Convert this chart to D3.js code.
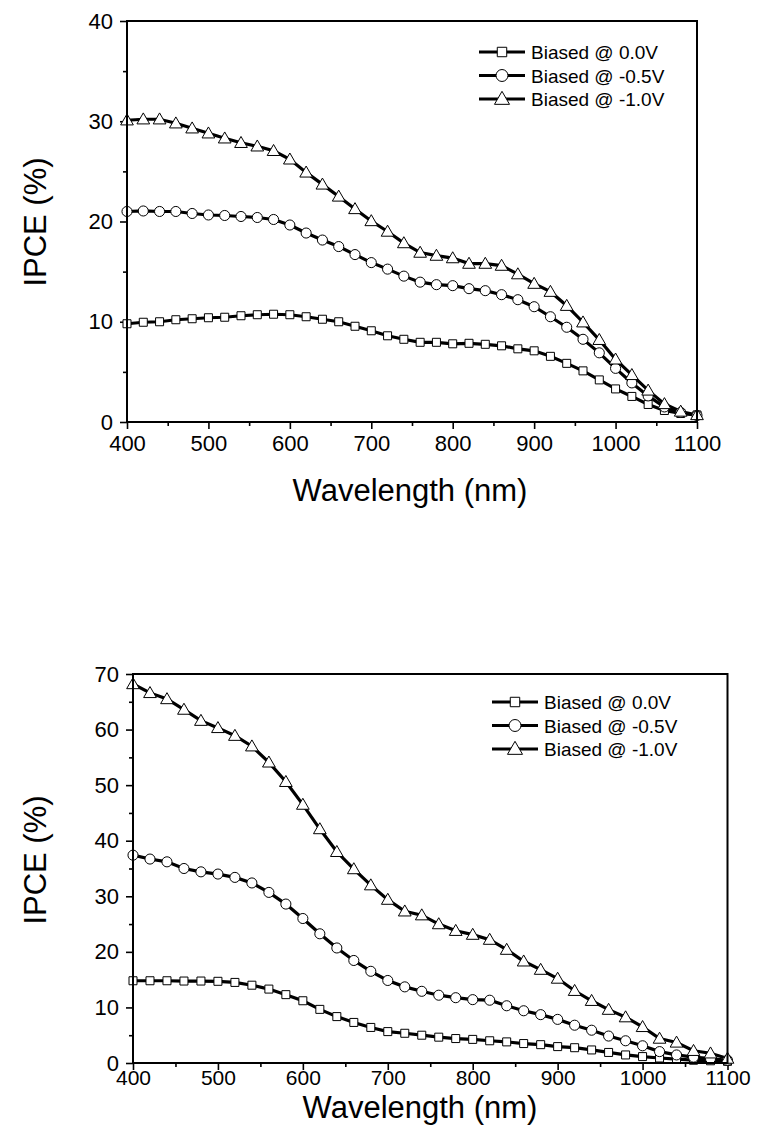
<!DOCTYPE html>
<html>
<head>
<meta charset="utf-8">
<script src="https://cdn.jsdelivr.net/npm/d3@7"></script>
<style>
  body { margin: 0; background: #fff; }
  svg { font-family: "Liberation Sans", Arial, sans-serif; }
</style>
</head>
<body>
<div id="chart"></div>
<script>
// wavelengths shared by every series (nm)
const wavelength = d3.range(400, 1101, 20);

const seriesNames = ["Biased @ 0.0V", "Biased @ -0.5V", "Biased @ -1.0V"];

// top panel IPCE (%)
const topBias00 = [9.8, 9.95, 10.0, 10.2, 10.3, 10.4, 10.45, 10.6, 10.7, 10.75, 10.7, 10.5,
  10.25, 10.0, 9.55, 9.1, 8.6, 8.25, 7.95, 7.95, 7.8, 7.85, 7.75, 7.6,
  7.3, 7.1, 6.55, 5.85, 5.1, 4.2, 3.3, 2.55, 1.75, 1.15, 0.85, 0.7];
const topBias05 = [21.0, 21.05, 21.0, 21.0, 20.8, 20.65, 20.6, 20.5, 20.4, 20.2, 19.65, 18.85,
  18.15, 17.5, 16.7, 15.9, 15.25, 14.55, 13.95, 13.7, 13.6, 13.3, 13.1, 12.7,
  12.2, 11.5, 10.5, 9.45, 8.25, 6.9, 5.35, 3.9, 2.6, 1.5, 0.95, 0.65];
const topBias10 = [30.1, 30.2, 30.2, 29.8, 29.3, 28.8, 28.3, 27.85, 27.5, 27.05, 26.2, 24.9,
  23.7, 22.5, 21.25, 20.05, 19.0, 17.85, 16.9, 16.6, 16.35, 15.8, 15.8, 15.6,
  14.75, 13.8, 13.0, 11.6, 9.95, 8.2, 6.25, 4.7, 3.15, 1.8, 1.05, 0.7];

// bottom panel IPCE (%)
const botBias00 = [14.8, 14.8, 14.8, 14.75, 14.75, 14.7, 14.5, 14.0, 13.3, 12.3, 11.2, 9.65,
  8.35, 7.3, 6.4, 5.65, 5.35, 5.0, 4.65, 4.4, 4.25, 4.0, 3.8, 3.5,
  3.3, 2.95, 2.75, 2.35, 1.9, 1.45, 1.15, 0.9, 0.7, 0.5, 0.4, 0.3];
const botBias05 = [37.4, 36.7, 36.2, 35.0, 34.4, 34.0, 33.4, 32.4, 30.7, 28.6, 26.0, 23.25,
  20.7, 18.45, 16.5, 14.85, 13.7, 12.9, 12.2, 11.75, 11.4, 11.3, 10.3, 9.4,
  8.7, 7.85, 6.8, 5.9, 4.85, 4.0, 3.1, 2.05, 1.45, 1.05, 0.8, 0.5];
const botBias10 = [68.2, 66.6, 65.5, 63.6, 61.6, 60.3, 58.9, 57.0, 54.1, 50.6, 46.5, 42.1,
  38.0, 34.9, 32.0, 29.4, 27.3, 26.6, 25.0, 23.8, 23.1, 22.2, 20.4, 18.3,
  16.8, 15.2, 13.0, 11.2, 9.6, 8.25, 6.5, 4.4, 3.7, 2.2, 1.75, 0.8];

// tick values
const xMajor = [400, 500, 600, 700, 800, 900, 1000, 1100];
const xMinor = [450, 550, 650, 750, 850, 950, 1050];
const yMajorTop = [0, 10, 20, 30, 40];
const yMinorTop = [5, 15, 25, 35];
const yMajorBot = [0, 10, 20, 30, 40, 50, 60, 70];
const yMinorBot = [5, 15, 25, 35, 45, 55, 65];

const W = 759, H = 1142;
const svg = d3.select("#chart").append("svg")
  .attr("width", W)
  .attr("height", H);

const symbols = [d3.symbolSquare, d3.symbolCircle, d3.symbolTriangle];
const symbolSizes = [64, 80, 70];

function drawPanel(p) {
  const x = d3.scaleLinear().domain([400, 1100]).range([p.left, p.right]);
  const y = d3.scaleLinear().domain([0, p.yMax]).range([p.bottom, p.top]);
  const g = svg.append("g");

  // minor ticks
  g.append("g")
    .attr("transform", `translate(0,${p.bottom})`)
    .call(d3.axisBottom(x).tickValues(xMinor).tickSize(4).tickFormat(""))
    .call(a => a.select(".domain").remove());
  g.append("g")
    .attr("transform", `translate(${p.left},0)`)
    .call(d3.axisLeft(y).tickValues(p.yMinor).tickSize(4).tickFormat(""))
    .call(a => a.select(".domain").remove());

  // major ticks + labels
  const xa = g.append("g")
    .attr("transform", `translate(0,${p.bottom})`)
    .call(d3.axisBottom(x).tickValues(xMajor).tickSize(7).tickPadding(p.xPad).tickFormat(d3.format("d")));
  xa.select(".domain").remove();
  xa.selectAll("text").attr("font-size", p.xFont).attr("fill", "#000");

  const ya = g.append("g")
    .attr("transform", `translate(${p.left},0)`)
    .call(d3.axisLeft(y).tickValues(p.yMajor).tickSize(7).tickPadding(7));
  ya.select(".domain").remove();
  ya.selectAll("text").attr("font-size", 22).attr("fill", "#000");

  g.selectAll(".tick line").attr("stroke", "#000").attr("stroke-width", 1.6);

  // series
  const line = d3.line()
    .x((d, i) => x(wavelength[i]))
    .y(d => y(d));

  p.series.forEach((vals, k) => {
    g.append("path")
      .datum(vals)
      .attr("fill", "none")
      .attr("stroke", "#000")
      .attr("stroke-width", 3.2)
      .attr("d", line);
  });
  p.series.forEach((vals, k) => {
    g.selectAll(null)
      .data(vals)
      .join("path")
      .attr("transform", (d, i) => `translate(${x(wavelength[i])},${y(d) + (k === 2 ? 1 : 0)})`)
      .attr("d", d3.symbol().type(symbols[k]).size(symbolSizes[k]))
      .attr("fill", "#fff")
      .attr("stroke", "#000")
      .attr("stroke-width", 1);
  });

  // frame
  g.append("rect")
    .attr("x", p.left).attr("y", p.top)
    .attr("width", p.right - p.left).attr("height", p.bottom - p.top)
    .attr("fill", "none").attr("stroke", "#000").attr("stroke-width", 2);

  // legend
  seriesNames.forEach((name, k) => {
    const ly = p.legY + k * 23.5;
    g.append("line")
      .attr("x1", p.legX).attr("x2", p.legX + 46)
      .attr("y1", ly).attr("y2", ly)
      .attr("stroke", "#000").attr("stroke-width", 3.2);
    g.append("path")
      .attr("transform", `translate(${p.legX + 23},${ly + (k === 2 ? 1 : 0)})`)
      .attr("d", d3.symbol().type(symbols[k]).size(symbolSizes[k] * 1.4))
      .attr("fill", "#fff").attr("stroke", "#000").attr("stroke-width", 1);
    g.append("text")
      .attr("x", p.legX + 52).attr("y", ly + 7)
      .attr("font-size", 19)
      .text(name);
  });

  // axis titles
  g.append("text")
    .attr("x", p.xTitleX).attr("y", p.xTitleY)
    .attr("text-anchor", "middle")
    .attr("font-size", 31)
    .text("Wavelength (nm)");
  g.append("text")
    .attr("transform", `translate(46,${p.yTitleY}) rotate(-90)`)
    .attr("text-anchor", "middle")
    .attr("font-size", 31)
    .text("IPCE (%)");
}

drawPanel({
  left: 127, right: 697, top: 21, bottom: 422, yMax: 40,
  yMajor: yMajorTop, yMinor: yMinorTop, xPad: 6, xFont: 22,
  series: [topBias00, topBias05, topBias10],
  legX: 479, legY: 52,
  xTitleX: 410, xTitleY: 501, yTitleY: 222
});

drawPanel({
  left: 133, right: 727.5, top: 674, bottom: 1063, yMax: 70,
  yMajor: yMajorBot, yMinor: yMinorBot, xPad: 0, xFont: 21,
  series: [botBias00, botBias05, botBias10],
  legX: 492, legY: 702,
  xTitleX: 420, xTitleY: 1118, yTitleY: 860
});
</script>
</body>
</html>
